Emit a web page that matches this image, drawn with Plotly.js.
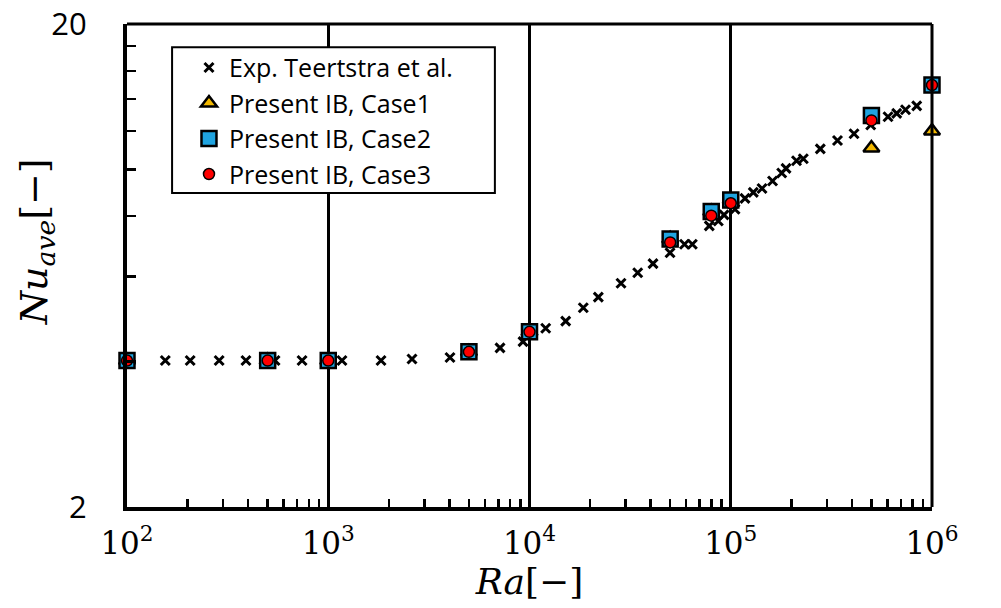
<!DOCTYPE html>
<html>
<head>
<meta charset="utf-8">
<script src="https://cdn.plot.ly/plotly-3.0.1.min.js"></script>
<style>html,body{margin:0;padding:0;background:#fff;}#chart{width:1001px;height:608px;}</style>
</head>
<body>
<div id="chart"></div>
<script>
// Experimental data (Teertstra et al.)
var expRa = [155, 206, 287, 390, 544, 741, 1170, 1829, 2607, 4027, 7136, 9284, 12035, 15130, 18505, 21980, 28490, 34490, 41090, 49920, 58920, 64430, 78230, 86730, 92580, 104980, 117700, 129450, 142990, 161300, 179150, 188200, 212200, 229400, 278600, 339200, 409800, 496000, 604500, 667700, 738500, 839500];
var expNu = [4.02, 4.02, 4.02, 4.02, 4.02, 4.02, 4.02, 4.02, 4.05, 4.08, 4.27, 4.40, 4.69, 4.85, 5.17, 5.44, 5.81, 6.11, 6.38, 6.72, 7.00, 7.00, 7.64, 7.82, 8.05, 8.27, 8.71, 8.96, 9.13, 9.46, 9.83, 10.05, 10.42, 10.52, 11.03, 11.48, 11.85, 12.36, 12.85, 13.06, 13.29, 13.54];

// Present IB results
var caseRa = [100, 500, 1000, 5000, 10000, 50000, 80000, 100000, 500000, 1000000];
var case1Nu = [4.02, 4.02, 4.02, 4.19, 4.61, 7.18, 8.18, 8.64, 11.07, 12.01];
var case2Nu = [4.02, 4.02, 4.02, 4.19, 4.61, 7.18, 8.18, 8.64, 12.93, 14.95];
var case3Nu = [4.02, 4.02, 4.02, 4.19, 4.61, 7.06, 8.02, 8.51, 12.63, 14.95];

// Axis ticks
var xTickVals = [100, 1000, 10000, 100000, 1000000];
var xTickText = ['10<sup>2</sup>', '10<sup>3</sup>', '10<sup>4</sup>', '10<sup>5</sup>', '10<sup>6</sup>'];
var xMinorVals = [200,300,400,500,600,700,800,900,2000,3000,4000,5000,6000,7000,8000,9000,20000,30000,40000,50000,60000,70000,80000,90000,200000,300000,400000,500000,600000,700000,800000,900000];
var yTickVals = [2, 20];
var yTickText = ['2', '20'];
var yMinorVals = [4, 6, 8, 10, 12, 14, 16, 18];

var xTitle = '<i>Ra</i>[−]';
var yTitle = '<i>Nu</i><sub><i>ave</i></sub>[−]';

var traces = [
  {x: expRa, y: expNu, name: 'Exp. Teertstra et al.', type: 'scatter', mode: 'markers', cliponaxis: false,
   marker: {symbol: 'x-thin', size: 9, color: '#000', line: {width: 3, color: '#000'}}},
  {x: caseRa, y: case1Nu, name: 'Present IB, Case1', type: 'scatter', mode: 'markers', cliponaxis: false,
   marker: {symbol: 'triangle-up', size: 14, color: '#F2B800', line: {width: 2.5, color: '#000'}}},
  {x: caseRa, y: case2Nu, name: 'Present IB, Case2', type: 'scatter', mode: 'markers', cliponaxis: false,
   marker: {symbol: 'square', size: 15, color: '#20A4E0', line: {width: 2.5, color: '#000'}}},
  {x: caseRa, y: case3Nu, name: 'Present IB, Case3', type: 'scatter', mode: 'markers', cliponaxis: false,
   marker: {symbol: 'circle', size: 11, color: '#FF0000', line: {width: 1.5, color: '#000'}}}
];

var serif = 'DejaVu Serif, serif';
var sans = 'Open Sans, sans-serif';

var layout = {
  width: 1001, height: 608,
  margin: {l: 127, r: 69, t: 24, b: 101},
  paper_bgcolor: '#fff', plot_bgcolor: '#fff',
  showlegend: true,
  legend: {x: 0.077, y: 0.957, xanchor: 'left', yanchor: 'top', bgcolor: 'rgba(0,0,0,0)', borderwidth: 0,
           font: {family: sans, size: 25, color: '#000'}, itemsizing: 'trace', tracegroupgap: 0},
  xaxis: {type: 'log', range: [2, 6], tickmode: 'array', tickvals: xTickVals, ticktext: xTickText,
          ticks: '', showgrid: true, gridcolor: '#000', gridwidth: 3,
          showline: true, linecolor: '#000', linewidth: 4, zeroline: false,
          tickfont: {family: serif, size: 31, color: '#000'}, ticklabelstandoff: 6,
          minor: {tickmode: 'array', tickvals: xMinorVals, ticks: 'inside', ticklen: 8, tickwidth: 2.5, tickcolor: '#000', showgrid: false},
          title: {text: xTitle, font: {family: serif, size: 36, color: '#000'}, standoff: 0}},
  yaxis: {type: 'log', range: [Math.log10(2), Math.log10(20)], tickmode: 'array', tickvals: yTickVals, ticktext: yTickText,
          ticks: '', showgrid: false,
          showline: true, linecolor: '#000', linewidth: 4, zeroline: false,
          tickfont: {family: sans, size: 31, color: '#000'}, ticklabelstandoff: 30,
          minor: {tickmode: 'array', tickvals: yMinorVals, ticks: 'inside', ticklen: 9, tickwidth: 2.5, tickcolor: '#000', showgrid: false}},
  annotations: [
    {text: yTitle, xref: 'paper', yref: 'paper', x: -0.112, y: 0.55, xanchor: 'center', yanchor: 'middle',
     textangle: -90, showarrow: false, font: {family: serif, size: 38, color: '#000'}}
  ],
  shapes: [
    {type: 'line', xref: 'paper', yref: 'paper', x0: 0, x1: 1, y0: 1, y1: 1, line: {color: '#000', width: 3}},
    {type: 'line', xref: 'paper', yref: 'paper', x0: 1, x1: 1, y0: 0, y1: 1, line: {color: '#000', width: 3}},
    {type: 'rect', xref: 'paper', yref: 'paper', x0: 0.056, x1: 0.457, y0: 0.650, y1: 0.952, line: {color: '#000', width: 2}, fillcolor: '#fff', layer: 'above'}
  ]
};

Plotly.newPlot('chart', traces, layout, {displayModeBar: false, staticPlot: true});
</script>
</body>
</html>
